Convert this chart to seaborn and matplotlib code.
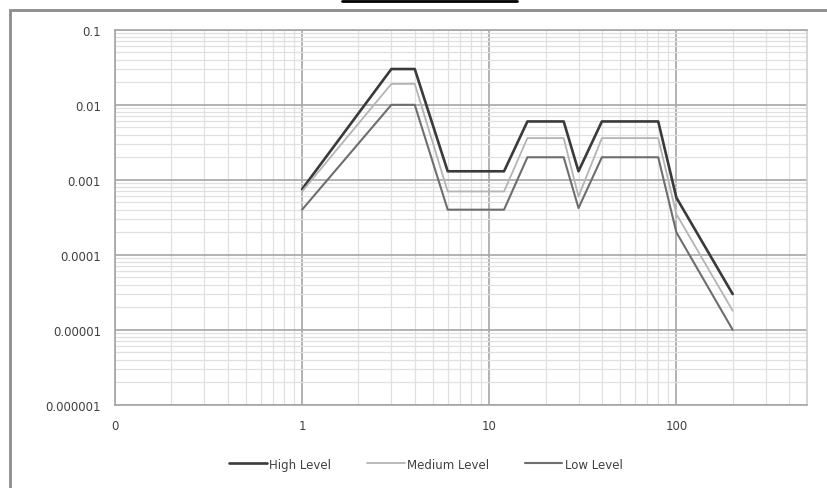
import matplotlib
matplotlib.use("Agg")
import matplotlib.pyplot as plt
import matplotlib.ticker as mticker
from matplotlib.patches import Rectangle
from matplotlib.lines import Line2D
import pandas as pd
import seaborn as sns

# frequency points (shared by all three series)
freq = [1, 3, 4, 6, 12, 16, 25, 30, 40, 80, 100, 200]

high_level = [0.00075, 0.03, 0.03, 0.0013, 0.0013, 0.006, 0.006, 0.0013, 0.006, 0.006, 0.00058, 0.00003]
medium_level = [0.0007, 0.019, 0.019, 0.0007, 0.0007, 0.0036, 0.0036, 0.0006, 0.0036, 0.0036, 0.00035, 0.000018]
low_level = [0.0004, 0.01, 0.01, 0.0004, 0.0004, 0.002, 0.002, 0.00042, 0.002, 0.002, 0.0002, 0.00001]

series_names = ["High Level", "Medium Level", "Low Level"]
series_colors = ["#3a3a3a", "#b4b4b4", "#6e6e6e"]
series_widths = [1.9, 1.3, 1.5]

x_ticks = [0.1, 1, 10, 100]
x_tick_labels = ["0", "1", "10", "100"]
y_ticks = [1e-6, 1e-5, 1e-4, 1e-3, 1e-2, 1e-1]
y_tick_labels = ["0.000001", "0.00001", "0.0001", "0.001", "0.01", "0.1"]


def main() -> None:
    sns.set_style("white")
    plt.rcParams["font.family"] = ["DejaVu Sans"]

    df = pd.DataFrame({"freq": freq, "High Level": high_level,
                       "Medium Level": medium_level, "Low Level": low_level})

    fig = plt.figure(figsize=(8.27, 4.89), dpi=100)
    ax = fig.add_axes([0.139, 0.170, 0.837, 0.767])

    for name, color, lw in zip(series_names, series_colors, series_widths):
        sns.lineplot(data=df, x="freq", y=name, color=color, linewidth=lw,
                     ax=ax, label=name, legend=False)

    ax.set_xscale("log")
    ax.set_yscale("log")
    ax.set_xlim(0.1, 500)
    ax.set_ylim(1e-6, 0.1)

    ax.xaxis.set_major_locator(mticker.FixedLocator(x_ticks))
    ax.xaxis.set_major_formatter(mticker.FixedFormatter(x_tick_labels))
    ax.yaxis.set_major_locator(mticker.FixedLocator(y_ticks))
    ax.yaxis.set_major_formatter(mticker.FixedFormatter(y_tick_labels))
    ax.xaxis.set_minor_locator(mticker.LogLocator(base=10, subs=range(2, 10), numticks=20))
    ax.yaxis.set_minor_locator(mticker.LogLocator(base=10, subs=range(2, 10), numticks=20))
    ax.xaxis.set_minor_formatter(mticker.NullFormatter())
    ax.yaxis.set_minor_formatter(mticker.NullFormatter())

    ax.grid(True, which="minor", color="#e0e0e0", linewidth=0.9)
    ax.grid(True, which="major", color="#a6a6a6", linewidth=1.2)
    ax.set_axisbelow(True)

    ax.tick_params(which="major", direction="out", length=4, width=1.2,
                   color="#a6a6a6", labelsize=8.5, labelcolor="#404040", pad=6)
    ax.tick_params(which="minor", length=0)
    ax.set_xlabel("")
    ax.set_ylabel("")

    for side in ["left", "bottom", "top"]:
        ax.spines[side].set_color("#a6a6a6")
        ax.spines[side].set_linewidth(1.2)
    ax.spines["right"].set_color("#cfcfcf")
    ax.spines["right"].set_linewidth(1.2)

    handles = [Line2D([0], [0], color=c, linewidth=lw)
               for c, lw in zip(series_colors, series_widths)]
    fig.legend(handles, series_names, loc="center", bbox_to_anchor=(0.515, 0.049),
               ncol=3, frameon=False, fontsize=8.5, labelcolor="#404040",
               handlelength=3.2, handletextpad=0.2, columnspacing=3.0)

    # outer chart frame and the stray line above it
    fig.patches.append(Rectangle((10 / 827, -0.1), 1.2, 1.1 - 11 / 489,
                                 transform=fig.transFigure, fill=False,
                                 edgecolor="#8c8c8c", linewidth=2.0))
    fig.lines.append(Line2D([342 / 827, 517 / 827], [1 - 1.5 / 489, 1 - 1.5 / 489],
                            transform=fig.transFigure, color="black", linewidth=2.0))

    fig.savefig("out.png", dpi=100)


if __name__ == "__main__":
    main()
